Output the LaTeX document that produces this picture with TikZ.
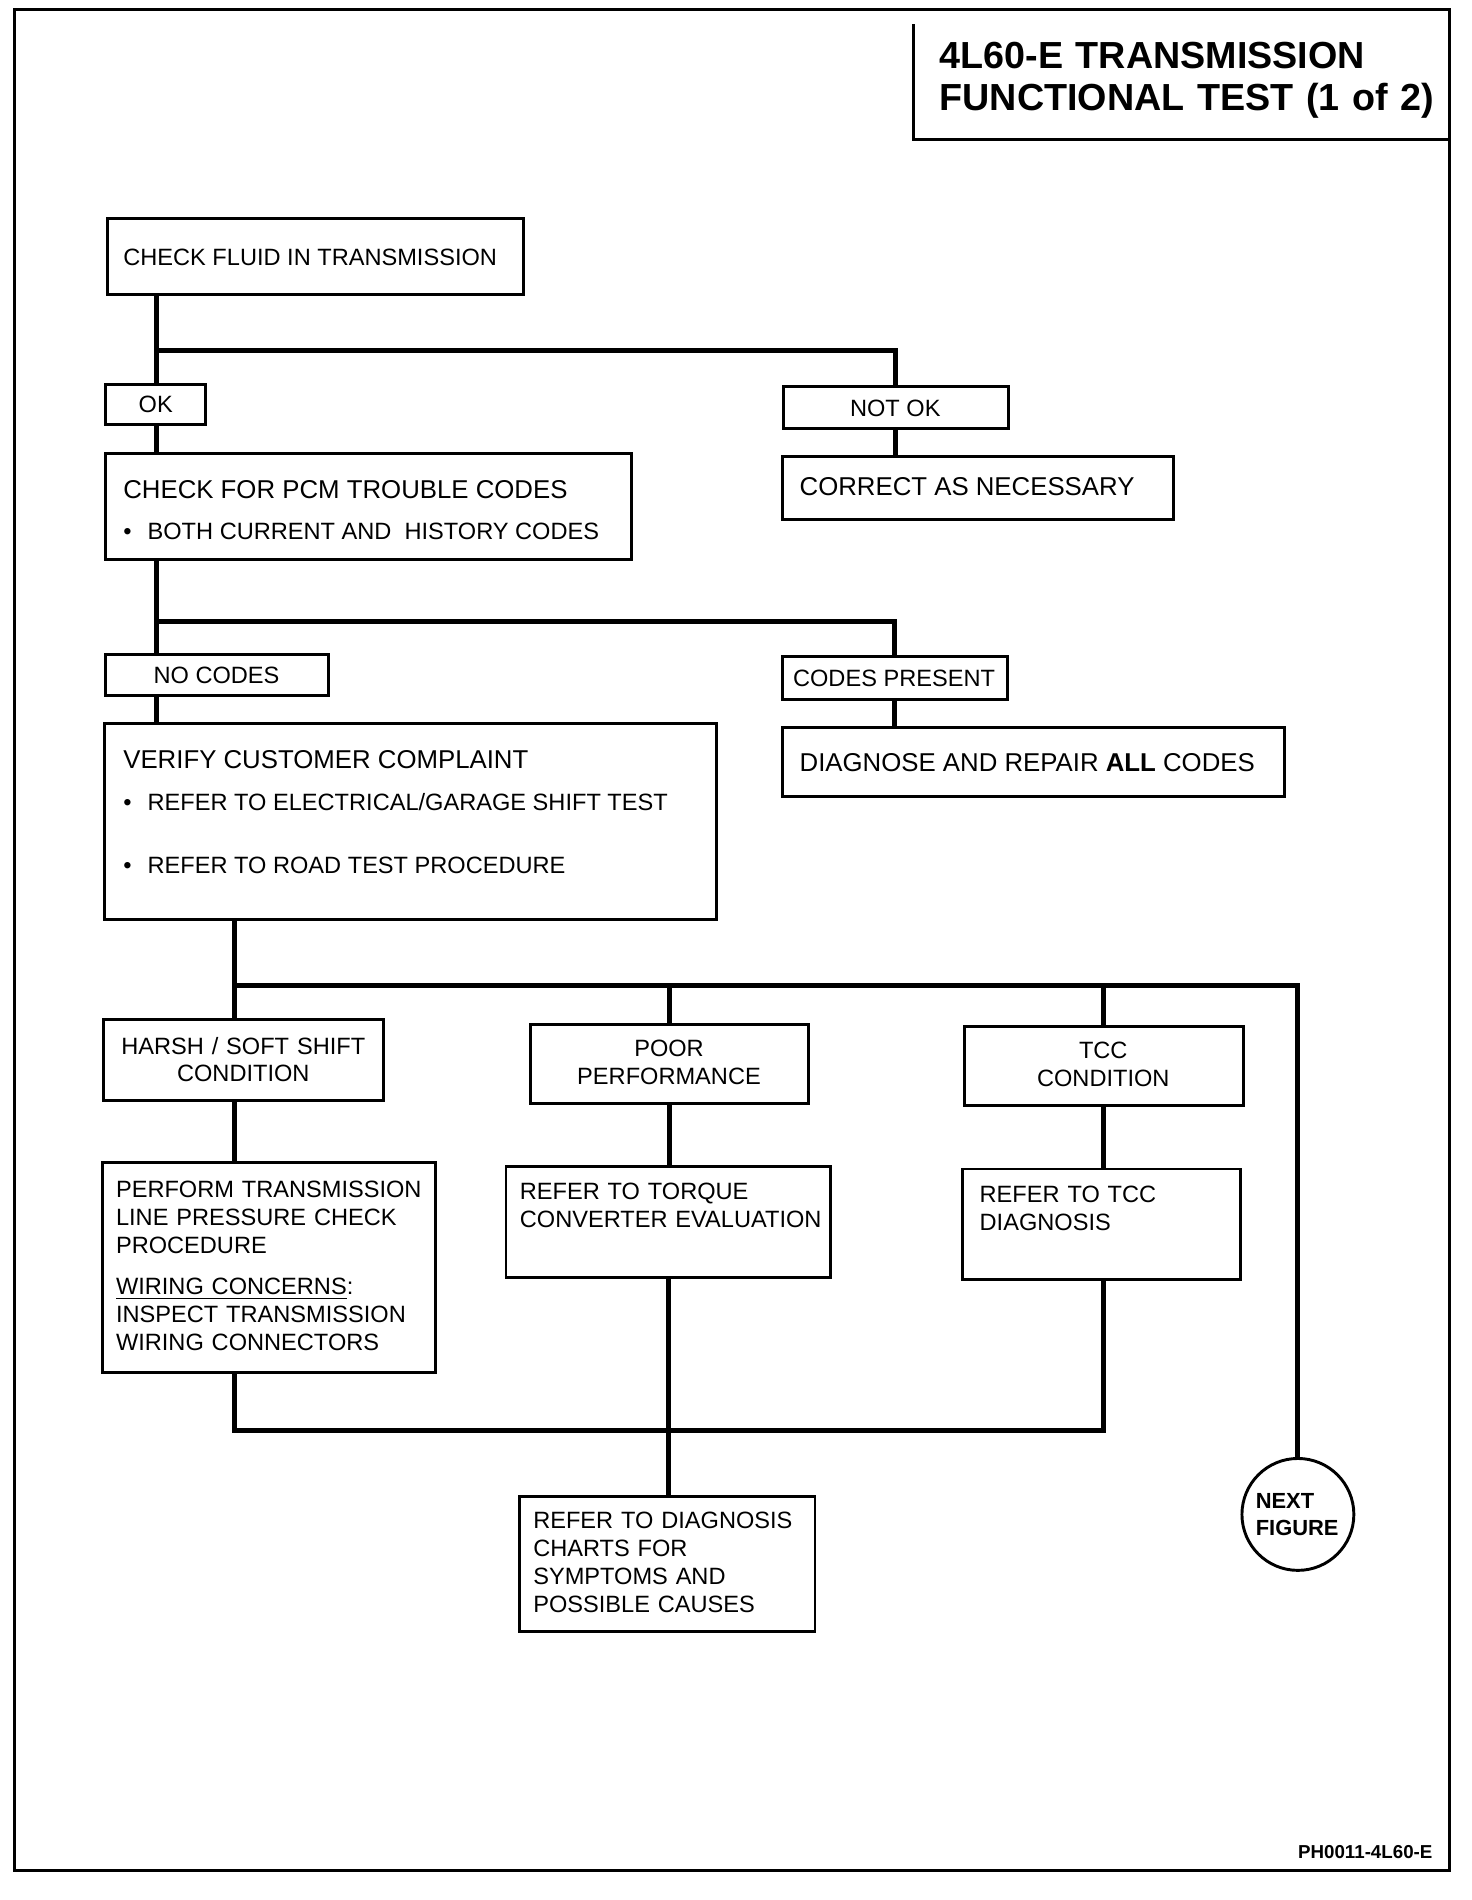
\documentclass[tikz,border=0pt]{standalone}
\usepackage{fontspec}
\setmainfont{Liberation Sans}
\usetikzlibrary{fit}

\begin{document}
\begin{tikzpicture}[x=0.5pt, y=-0.5pt]
\tikzstyle{box} = [rectangle, draw = black, line width=1.2pt, inner sep=0pt]
\tikzstyle{edge} = [line width=2.1pt, line cap=rect]
\tikzstyle{txt} = [inner sep=0pt, anchor=base west, align=left, font=\fontsize{9.7}{11.5}\selectfont]
\tikzstyle{head} = [txt, font=\fontsize{10.6}{12}\selectfont]
\tikzstyle{ctxt} = [txt, anchor=base, align=center]
\newcommand{\bul}{\makebox[10pt][l]{\textbullet}}

\useasboundingbox (0,0) rectangle (1210,1562);
% -----------------------------------
% frame and title
\draw[line width=1.2pt] (12,8) rectangle (1192,1538);
\draw[line width=1.2pt] (751,20) -- (751,115) -- (1190,115);
\node[txt, font=\fontsize{15.5}{17.5}\bfseries, text width=420pt] (title) at (772,56)
  {4L60-E TRANSMISSION\\FUNCTIONAL TEST (1 of 2)};
\node[txt, anchor=base east, font=\fontsize{7.7}{9}\bfseries] (figno) at (1178,1528) {PH0011-4L60-E};

% -----------------------------------
% fluid check
\node[box, fit={(88,180) (430,242)}] (fluid) {};
\node[txt] (fluid-t) at (101,218.5) {CHECK FLUID IN TRANSMISSION};
\node[box, fit={(87,316) (169,349)}] (ok) {};
\node[ctxt] (ok-t) at (128,339) {OK};
\node[box, fit={(644,318) (829,352)}] (notok) {};
\node[ctxt] (notok-t) at (736,342) {NOT OK};
\node[box, fit={(643,375) (965,427)}] (correct) {};
\node[head] (correct-t) at (657,407.5) {CORRECT AS NECESSARY};

\coordinate (split1) at (129,288);
\draw[edge] (fluid.south -| split1) -- (ok.north -| split1);
\draw[edge] (split1) -| (notok.north);
\draw[edge] (notok.south) -- (correct.north -| notok.south);

% -----------------------------------
% trouble codes
\node[box, fit={(87,373) (519,460)}] (codes) {};
\node[head] (codes-h) at (101,409.5) {CHECK FOR PCM TROUBLE CODES};
\node[txt] (codes-b) at (101,443.5) {\bul BOTH CURRENT AND \ HISTORY CODES};
\node[box, fit={(87,538) (270,572)}] (nocodes) {};
\node[ctxt] (nocodes-t) at (178,561.5) {NO CODES};
\node[box, fit={(643,540) (828,575)}] (present) {};
\node[ctxt] (present-t) at (735,564) {CODES PRESENT};
\node[box, fit={(643,598) (1056,655)}] (repair) {};
\node[head] (repair-t) at (657,634.5) {DIAGNOSE AND REPAIR {\bfseries ALL} CODES};

\draw[edge] (ok.south -| split1) -- (codes.north -| split1);
\coordinate (split2) at (129,511);
\draw[edge] (codes.south -| split2) -- (nocodes.north -| split2);
\draw[edge] (split2) -| (present.north);
\draw[edge] (present.south) -- (repair.north -| present.south);

% -----------------------------------
% customer complaint
\node[box, fit={(86,595) (589,756)}] (verify) {};
\node[head] (verify-h) at (101,631.5) {VERIFY CUSTOMER COMPLAINT};
\node[txt] (verify-b1) at (101,666.5) {\bul REFER TO ELECTRICAL/GARAGE SHIFT TEST};
\node[txt] (verify-b2) at (101,718.5) {\bul REFER TO ROAD TEST PROCEDURE};

\draw[edge] (nocodes.south -| split2) -- (verify.north -| split2);

% -----------------------------------
% conditions
\node[box, fit={(85,838) (315,905)}] (harsh) {};
\node[ctxt, text width=110pt] (harsh-t) at (200,866.5) {HARSH / SOFT SHIFT\\CONDITION};
\node[box, fit={(436,842) (665,907)}] (poor) {};
\node[ctxt, text width=110pt] (poor-t) at (550,868.5) {POOR\\PERFORMANCE};
\node[box, fit={(793,844) (1022,909)}] (tcc) {};
\node[ctxt, text width=110pt] (tcc-t) at (907,870.5) {TCC\\CONDITION};
\node[circle, draw = black, line width=1.2pt, minimum size=46pt, inner sep=0pt] (next) at (1067,1245) {};
\node[txt, font=\fontsize{9}{11}\bfseries, text width=40pt] (next-t) at (1032,1240.5) {NEXT\\FIGURE};

\coordinate (split3) at (193,810);
\draw[edge] (verify.south -| split3) -- (harsh.north -| split3);
\draw[edge] (split3) -| (next.north);
\draw[edge] (poor.north |- split3) -- (poor.north);
\draw[edge] (tcc.north |- split3) -- (tcc.north);

% -----------------------------------
% checks
\node[box, fit={(84,956) (358,1128)}] (perform) {};
\node[txt, text width=135pt] (perform-t) at (95,984.5)
  {PERFORM TRANSMISSION\\LINE PRESSURE CHECK\\PROCEDURE\\[5.5pt]
   \underline{WIRING CONCERNS}:\\INSPECT TRANSMISSION\\WIRING CONNECTORS};
\node[box, fit={(416,959) (683,1050)}] (torque) {};
\node[txt, text width=130pt] (torque-t) at (427,986.5) {REFER TO TORQUE\\CONVERTER EVALUATION};
\node[box, fit={(791,961) (1020,1052)}] (tccdiag) {};
\node[txt, text width=110pt] (tccdiag-t) at (805,988.5) {REFER TO TCC\\DIAGNOSIS};

\draw[edge] (harsh.south -| split3) -- (perform.north -| split3);
\draw[edge] (poor.south) -- (torque.north -| poor.south);
\draw[edge] (tcc.south) -- (tccdiag.north -| tcc.south);

% -----------------------------------
% diagnosis charts
\node[box, fit={(427,1230) (670,1341)}] (charts) {};
\node[txt, text width=118pt] (charts-t) at (438,1256.5)
  {REFER TO DIAGNOSIS\\CHARTS FOR\\SYMPTOMS AND\\POSSIBLE CAUSES};

\coordinate (join) at (550,1176);
\draw[edge] (perform.south -| split3) |- (join) -| (tccdiag.south -| tcc.south);
\draw[edge] (torque.south) -- (charts.north -| torque.south);
% -----------------------------------
\end{tikzpicture}
\end{document}
